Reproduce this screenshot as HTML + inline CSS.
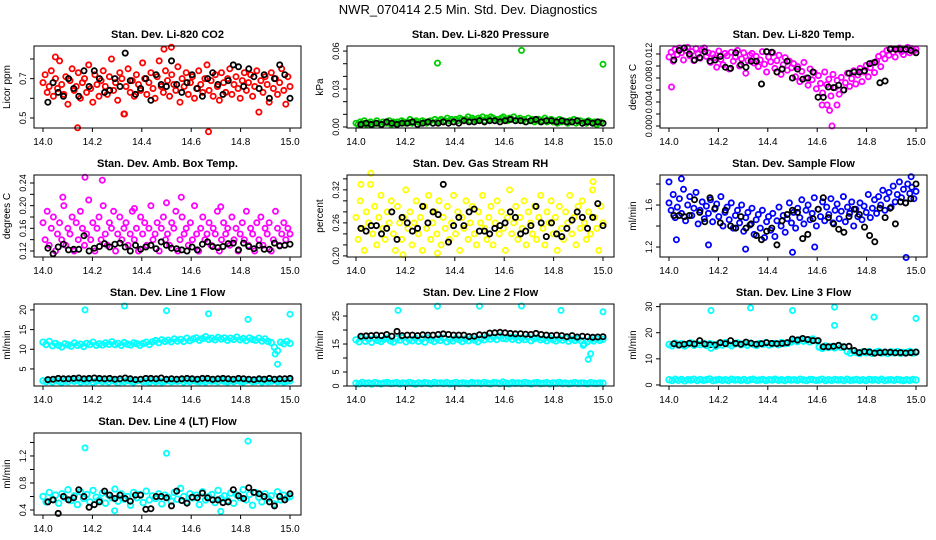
<!DOCTYPE html>
<html><head><meta charset="utf-8">
<style>
html,body{margin:0;padding:0;background:#fff;}
svg{display:block;font-family:"Liberation Sans",Arial,sans-serif;}
</style></head>
<body>
<svg id="chart" width="936" height="540" viewBox="0 0 936 540" xmlns="http://www.w3.org/2000/svg">
<rect width="936" height="540" fill="#fff"/>
<text x="468" y="14" text-anchor="middle" font-size="13">NWR_070414  2.5 Min. Std. Dev. Diagnostics</text>
</svg>
<script>
// ---------- DATA ----------
const xTicks = [14.0, 14.2, 14.4, 14.6, 14.8, 15.0];
const xTickLabels = ["14.0", "14.2", "14.4", "14.6", "14.8", "15.0"];

// CO2 (ppm)
const co2Main = [0.68,0.72,0.63,0.66,0.74,0.61,0.70,0.65,0.79,0.67,0.62,0.71,0.57,0.69,0.75,0.64,0.66,0.73,0.60,0.68,
0.70,0.63,0.77,0.65,0.58,0.72,0.67,0.61,0.69,0.74,0.66,0.62,0.71,0.80,0.64,0.68,0.59,0.73,0.70,0.52,
0.66,0.75,0.63,0.69,0.61,0.72,0.67,0.64,0.78,0.70,0.62,0.68,0.73,0.65,0.60,0.71,0.79,0.66,0.63,0.74,
0.69,0.61,0.72,0.67,0.64,0.76,0.58,0.70,0.66,0.73,0.62,0.68,0.71,0.60,0.65,0.74,0.67,0.63,0.70,0.77,
0.64,0.69,0.61,0.72,0.66,0.59,0.73,0.68,0.63,0.70,0.75,0.62,0.67,0.71,0.65,0.60,0.69,0.73,0.64,0.68,
0.72,0.61,0.66,0.74,0.53,0.69,0.63,0.71,0.67,0.58,0.73,0.65,0.70,0.62,0.68,0.75,0.64,0.57,0.71,0.66];
const co2Black = [0.58,0.68,0.63,0.61,0.70,0.65,0.61,0.74,0.66,0.74,0.70,0.63,0.64,0.70,0.66,0.83,0.69,0.62,0.65,0.70,0.59,0.72,0.67,0.66,0.79,0.67,0.63,0.68,0.72,0.65,0.61,0.70,0.73,0.67,0.62,0.69,0.77,0.76,0.66,0.75,0.71,0.65,0.72,0.60,0.70,0.77,0.72,0.60];
const co2OutT = [14.14, 14.67, 14.49, 14.52, 14.05, 14.33];
const co2OutV = [0.45, 0.43, 0.85, 0.86, 0.81, 0.52];

// Pressure (x1000 kPa)
const presMain = [3,2,4,3,5,2,3,4,2,3,5,3,2,4,3,3,5,2,4,3,
4,3,5,4,3,4,6,3,4,5,4,3,5,4,3,4,5,3,6,4,
5,6,4,5,7,5,6,4,6,5,7,6,5,6,8,5,7,6,5,7,
6,8,5,7,6,8,7,5,6,6,7,8,6,5,7,6,8,5,6,7,
5,6,4,7,5,6,4,5,6,4,5,7,4,5,6,4,5,3,6,4,
5,4,3,5,4,6,3,4,5,3,4,3,5,4,3,4,2,3,4,3];
const presBlack = [2,3,2,3,2,4,3,2,3,3,4,2,3,4,3,3,4,3,4,3,5,4,4,5,4,5,5,4,5,6,5,5,4,5,6,4,5,5,4,5,4,4,5,3,4,3,4,3];
const presOutT = [14.33, 14.67, 15.0];
const presOutV = [50.5, 60.5, 49.5];

// Li-820 temp (x1000 C)
const ltMain = [11.5,12.3,10.8,12.8,11.9,13.0,12.2,11.0,12.6,13.1,11.7,12.4,10.9,12.9,12.0,11.3,12.7,13.0,11.6,12.2,
10.6,12.0,11.4,9.8,12.5,11.1,10.2,12.1,11.7,9.5,12.3,10.8,11.5,12.6,10.0,11.2,12.2,8.8,10.9,11.8,
12.1,10.5,11.6,9.9,11.0,12.4,10.3,9.0,11.5,10.7,12.2,9.6,10.9,11.8,8.6,10.2,11.4,9.3,10.8,9.7,
10.4,8.2,9.9,7.4,9.1,10.6,8.0,6.8,9.5,7.7,8.9,6.2,8.4,7.1,5.5,9.0,6.9,7.8,5.0,8.6,
6.4,7.6,5.3,8.1,6.0,7.2,8.8,6.6,7.9,9.2,7.0,8.5,9.6,7.4,9.0,10.1,8.2,9.7,10.5,8.9,
10.8,11.6,9.9,12.0,11.2,12.6,11.8,12.9,12.3,11.5,12.8,13.0,12.4,11.9,12.7,13.1,12.2,12.9,12.5,12.8];
const ltBlack = [11.0,12.6,13.0,12.0,11.0,11.4,12.4,10.8,11.0,11.6,9.8,9.6,12.2,10.2,9.8,10.8,10.8,7.0,12.4,12.3,9.0,9.5,10.8,8.0,9.5,7.8,8.0,9.0,4.8,4.8,6.5,6.4,6.8,6.0,8.8,9.0,9.0,9.2,10.4,10.6,7.2,7.5,12.8,12.8,12.8,12.8,12.6,12.2];
const ltOutT = [14.01, 14.66, 14.62, 14.64, 14.68, 14.65];
const ltOutV = [6.5, 0.0, 3.5, 3.5, 3.5, 2.6];

// Amb box temp (x100 C)
const abMain = [17,14,19,13,16,18,12,15,17,14,20,13,16,15,18,12,17,14,19,16,
13,15,21,14,17,12,16,18,14,20,15,13,17,16,19,12,15,18,14,16,
17,13,15,19,14,16,12,18,15,17,13,16,20,14,15,17,12,16,18,14,
15,13,17,16,19,12,14,18,15,16,13,17,14,20,15,12,16,18,14,15,
17,13,16,15,19,12,14,17,15,16,13,18,14,16,12,15,17,14,19,13,
16,15,12,17,14,18,13,16,15,17,12,14,19,16,13,15,17,14,16,15];
const abBlack = [12.5,11.5,12.7,13.2,12.2,12.3,12.3,14.7,12.0,12.5,12.8,13.3,12.7,13.2,13.4,12.7,12.0,13.0,12.3,12.7,13.0,12.4,13.6,13.0,12.5,12.4,12.2,12.0,12.7,12.2,13.2,13.6,12.8,12.6,12.8,13.3,13.4,12.2,13.4,12.8,12.4,13.0,12.3,12.3,13.4,12.9,13.0,13.2];
const abOutT = [14.17, 14.24, 14.08, 14.56, 14.50, 14.72, 14.37];
const abOutV = [25.0, 24.5, 21.5, 21.5, 20.5, 19.8, 19.5];

// Gas stream RH (x100 percent)
const rhMain = [27,23,30,25,21,28,26,33,24,29,22,27,31,25,23,28,26,30,24,21,
29,26,23,27,32,25,28,22,26,30,24,27,21,29,25,31,23,26,28,24,
30,22,27,25,29,23,26,31,24,28,21,27,25,30,23,26,29,24,22,28,
26,31,25,23,27,29,22,26,30,24,28,25,21,27,32,24,26,29,23,27,
25,30,22,28,26,24,29,23,27,31,25,22,28,26,30,24,27,21,29,25,
23,28,26,31,24,27,22,29,25,30,26,23,28,24,32,27,25,21,29,26];
const rhBlack = [25,24.5,25.5,25.5,24,25,28,23,27,26,24.5,25,29,26,28,27.5,33,22.5,25.5,27,25.5,28,28.5,24.5,24.5,24,25,25.5,26,28,27,24,24.5,25.5,29,26,23.5,26,24,23.5,25,26.5,28,27,25,27,29.5,25.5];
const rhOutT = [14.06, 14.02, 14.96, 14.19, 14.33];
const rhOutV = [35.0, 33.0, 33.5, 20.2, 20.5];

// Sample flow (ml/min)
const sfMain = [1.62,1.55,1.70,1.48,1.58,1.66,1.52,1.75,1.45,1.60,1.68,1.50,1.57,1.72,1.42,1.55,1.63,1.47,1.59,1.52,
1.65,1.44,1.56,1.61,1.49,1.68,1.40,1.53,1.58,1.46,1.62,1.38,1.50,1.55,1.43,1.60,1.35,1.48,1.53,1.41,
1.57,1.32,1.46,1.51,1.38,1.55,1.29,1.44,1.49,1.36,1.52,1.30,1.45,1.58,1.40,1.50,1.34,1.47,1.62,1.43,
1.53,1.38,1.57,1.48,1.65,1.42,1.55,1.60,1.46,1.52,1.67,1.40,1.56,1.49,1.63,1.45,1.58,1.51,1.66,1.43,
1.55,1.61,1.47,1.54,1.68,1.44,1.58,1.52,1.63,1.40,1.56,1.49,1.62,1.46,1.59,1.53,1.70,1.48,1.57,1.65,
1.52,1.68,1.60,1.74,1.55,1.66,1.72,1.58,1.78,1.63,1.70,1.82,1.67,1.75,1.62,1.80,1.71,1.77,1.66,1.73];
const sfBlack = [1.50,1.50,1.49,1.50,1.65,1.53,1.44,1.67,1.57,1.43,1.55,1.40,1.38,1.49,1.38,1.42,1.31,1.27,1.35,1.38,1.22,1.45,1.51,1.55,1.53,1.28,1.32,1.47,1.56,1.67,1.48,1.42,1.37,1.34,1.49,1.56,1.51,1.39,1.31,1.25,1.57,1.48,1.57,1.42,1.63,1.62,1.66,1.80];
const sfOutT = [14.0, 14.05, 14.96, 14.98, 14.31, 14.50, 14.59, 14.03, 14.16];
const sfOutV = [1.82, 1.85, 1.10, 1.87, 1.18, 1.15, 1.20, 1.27, 1.22];

// Line 1 flow
const l1Upper = [11.8,11.2,12.0,10.9,11.5,11.0,10.6,11.4,11.1,10.8,11.6,11.0,11.3,10.7,11.5,11.2,11.8,11.0,11.4,11.1,
11.6,11.3,11.9,11.2,11.5,11.0,11.7,11.3,11.1,11.6,11.4,11.0,11.5,11.8,11.2,11.9,12.2,11.7,12.4,12.0,
12.3,11.9,12.6,12.1,12.5,12.0,12.8,12.2,12.6,12.9,12.3,12.7,13.2,12.5,12.8,12.4,13.0,12.6,12.9,12.3,
12.8,12.5,13.1,12.4,12.7,12.2,12.9,12.5,12.3,12.8,12.1,12.6,12.0,11.7,10.5,9.6,11.8,11.4,12.0,11.5];
const l1Lower = [2.0,1.8,2.1,1.7,2.2,1.9,1.6,2.0,1.8,2.3,1.9,2.1,1.7,2.0,1.8,2.2,1.6,1.9,2.1,1.8,
2.0,1.7,2.2,1.9,1.5,2.0,1.8,2.1,1.9,1.7,2.0,2.2,1.8,1.9,1.6,2.1,1.8,2.0,1.7,1.9,
2.1,1.8,2.0,1.9,2.2,1.7,2.0,1.8,2.1,1.9,1.8,2.0,1.7,2.1,1.9,2.0,1.8,2.2,1.9,1.7,
2.0,1.8,2.1,1.9,1.7,2.0,2.2,1.8,1.9,2.1,1.7,2.0,1.8,1.9,2.1,1.8,2.0,1.7,1.9,2.0];
const l1Black = [2.3,2.4,2.6,2.5,2.5,2.6,2.7,2.5,2.6,2.7,2.6,2.5,2.6,2.4,2.5,2.7,2.5,2.3,2.4,2.6,2.6,2.5,2.7,2.4,2.5,2.4,2.5,2.6,2.5,2.4,2.6,2.6,2.4,2.5,2.6,2.5,2.4,2.6,2.5,2.4,2.3,2.5,2.4,2.6,2.4,2.5,2.5,2.6];
const l1OutT = [14.17, 14.33, 14.50, 14.67, 14.83, 15.0, 14.95, 14.94];
const l1OutV = [20.0, 21.0, 19.8, 19.0, 17.6, 18.9, 6.2, 8.8];

// Line 2 flow
const l2Upper = [16.5,15.8,17.2,16.0,16.8,15.6,17.0,16.3,15.9,16.7,17.1,16.1,15.7,16.9,16.4,17.3,15.8,16.6,16.2,17.0,
16.0,16.8,15.7,17.2,16.4,15.9,16.9,16.3,17.1,15.8,16.6,16.1,17.0,16.5,15.9,16.8,16.2,17.1,16.4,15.8,
17.0,16.5,17.6,16.8,17.4,16.6,17.8,17.0,16.9,17.5,16.7,17.3,16.4,17.1,16.6,17.4,16.2,16.9,17.2,16.5,
16.8,16.2,17.0,16.5,16.1,16.9,16.4,17.1,16.0,16.7,16.3,16.9,16.2,15.0,15.8,16.6,16.1,16.8,16.3,16.7];
const l2Lower = [1.0,0.8,1.3,0.9,1.1,0.7,1.2,1.0,0.8,1.1,1.3,0.9,1.0,1.2,0.8,1.1,0.9,1.3,1.0,0.7,
1.1,0.9,1.2,1.0,0.8,1.3,1.0,1.1,0.9,1.2,0.8,1.0,1.3,0.9,1.1,1.0,0.8,1.2,1.0,1.1,
0.9,1.3,1.0,0.8,1.2,1.1,0.9,1.4,1.0,0.8,1.2,1.0,1.1,0.9,1.3,1.0,0.8,1.1,1.2,0.9,
1.0,1.2,0.8,1.1,1.0,1.3,0.9,1.1,0.8,1.0,1.2,0.9,1.1,1.0,0.8,1.2,1.0,0.9,1.1,1.0];
const l2Black = [17.8,17.9,18.0,18.2,18.0,18.4,17.8,19.5,18.0,18.2,18.2,18.0,18.3,18.2,18.2,18.4,18.6,18.4,18.2,18.2,18.2,17.7,17.8,18.3,18.2,18.9,19.0,19.2,19.0,18.8,18.6,18.7,18.5,18.4,18.8,18.4,18.2,18.0,18.2,18.0,17.6,18.0,17.5,17.8,17.6,17.4,17.5,17.6];
const l2OutT = [14.17, 14.33, 14.50, 14.67, 14.83, 15.0, 14.94, 14.95, 14.92];
const l2OutV = [27.0, 28.5, 28.5, 28.6, 27.0, 26.5, 9.5, 11.5, 14.5];

// Line 3 flow
const l3Upper = [15.5,15.0,16.0,15.3,15.8,14.9,15.6,16.1,15.2,15.7,15.4,16.0,15.1,15.8,15.5,14.8,15.9,15.3,16.2,15.6,
15.0,15.7,16.1,15.4,15.8,15.2,16.0,15.5,15.1,15.9,15.6,16.2,15.3,15.7,15.9,15.4,16.3,15.8,16.0,16.5,
17.0,16.6,17.4,16.8,17.2,16.5,17.6,16.9,14.5,14.0,14.9,14.3,14.7,14.2,15.0,14.4,14.6,12.8,12.2,12.9,
12.4,12.0,12.7,12.3,12.8,12.1,12.5,12.9,12.2,12.6,12.0,12.7,12.3,12.8,12.1,12.5,12.4,12.9,12.2,12.6];
const l3Lower = [2.0,1.7,2.2,1.8,2.1,1.6,2.0,1.9,2.2,1.7,2.1,1.8,2.0,2.3,1.7,1.9,2.1,1.8,2.0,1.7,
2.2,1.9,2.0,1.8,2.1,1.7,2.0,2.2,1.8,1.9,2.1,1.7,2.0,1.9,2.2,1.8,2.0,1.7,2.1,1.9,
2.0,1.8,2.2,1.9,1.7,2.1,2.0,1.8,1.9,2.2,1.7,2.0,1.8,2.1,1.9,2.0,1.7,2.2,1.8,1.9,
2.1,1.8,2.0,1.7,2.1,1.9,2.0,1.8,2.2,1.7,1.9,2.0,1.8,2.1,1.9,1.7,2.0,1.8,2.1,1.9];
const l3Black = [15.8,15.3,15.6,16.0,15.7,17.0,15.7,15.4,15.3,16.2,15.8,17.0,15.9,15.6,16.4,16.0,15.6,15.8,16.2,15.9,15.8,15.9,16.2,17.6,17.2,17.8,17.4,17.0,17.0,14.6,14.6,14.8,15.2,14.6,14.8,13.2,12.4,12.8,12.6,12.2,12.4,12.6,12.5,12.3,12.4,12.2,12.4,12.6];
const l3OutT = [14.17, 14.33, 14.50, 14.67, 14.67, 14.83, 15.0, 14.17];
const l3OutV = [28.5, 29.5, 28.5, 29.8, 22.8, 26.0, 25.5, 14.0];

// Line 4 (LT) flow
const l4Main = [0.60,0.52,0.66,0.56,0.62,0.50,0.64,0.58,0.70,0.54,0.61,0.48,0.67,0.57,0.63,0.52,0.69,0.59,0.55,0.65,
0.50,0.62,0.58,0.71,0.53,0.64,0.56,0.60,0.47,0.66,0.58,0.63,0.51,0.68,0.55,0.61,0.57,0.64,0.49,0.62,
0.59,0.53,0.66,0.56,0.72,0.60,0.52,0.64,0.58,0.62,0.48,0.67,0.55,0.60,0.63,0.51,0.69,0.57,0.61,0.54,
0.65,0.50,0.62,0.58,0.70,0.55,0.63,0.47,0.66,0.59,0.52,0.64,0.57,0.61,0.49,0.67,0.55,0.62,0.58,0.60];
const l4Black = [0.52,0.55,0.35,0.60,0.55,0.58,0.70,0.60,0.44,0.48,0.52,0.68,0.62,0.57,0.62,0.57,0.53,0.62,0.62,0.41,0.42,0.60,0.60,0.58,0.46,0.68,0.54,0.50,0.59,0.58,0.65,0.58,0.55,0.55,0.51,0.52,0.70,0.61,0.57,0.73,0.66,0.64,0.60,0.52,0.46,0.60,0.55,0.64];
const l4OutT = [14.17, 14.50, 14.83, 14.29, 14.72];
const l4OutV = [1.32, 1.24, 1.42, 0.39, 0.38];

// ---------- CHART ----------
const svg = document.getElementById('chart');
const NS = 'http://www.w3.org/2000/svg';
function mk(tag, attrs, parent) {
  const e = document.createElementNS(NS, tag);
  for (const k in attrs) e.setAttribute(k, attrs[k]);
  (parent || svg).appendChild(e);
  return e;
}
const CYAN = '#00ffff';
const panels = [
  {id:'co2', title:'Stan. Dev. Li-820 CO2', ylab:'Licor ppm', col:0, row:0, yMin:0.449, yMax:0.866, ticks:[0.5,0.6,0.7,0.8], labels:['0.5','','0.7',''],
   series:[{c:'#ff0000', v:co2Main, b:false}, {c:'#000', v:co2Black, b:true}], out:{c:'#ff0000', t:co2OutT, v:co2OutV}},
  {id:'pressure', title:'Stan. Dev. Li-820 Pressure', ylab:'kPa', col:1, row:0, yMin:-0.8, yMax:64, ticks:[0,10,20,30,40,50,60], labels:['0.00','','','0.03','','','0.06'],
   series:[{c:'#00cc00', v:presMain, b:false}, {c:'#000', v:presBlack, b:true}], out:{c:'#00cc00', t:presOutT, v:presOutV}},
  {id:'li-temp', title:'Stan. Dev. Li-820 Temp.', ylab:'degrees C', col:2, row:0, yMin:-0.33, yMax:13.33, ticks:[0,2,4,6,8,10,12], labels:['0.000','','0.004','','0.008','','0.012'],
   series:[{c:'#ff00ff', v:ltMain, b:false}, {c:'#000', v:ltBlack, b:true}], out:{c:'#ff00ff', t:ltOutT, v:ltOutV}},
  {id:'amb-box', title:'Stan. Dev. Amb. Box Temp.', ylab:'degrees C', col:0, row:1, yMin:10.94, yMax:25.41, ticks:[12,14,16,18,20,22,24], labels:['0.12','','0.16','','0.20','','0.24'],
   series:[{c:'#ff00ff', v:abMain, b:false}, {c:'#000', v:abBlack, b:true}], out:{c:'#ff00ff', t:abOutT, v:abOutV}},
  {id:'rh', title:'Stan. Dev. Gas Stream RH', ylab:'percent', col:1, row:1, yMin:19.8, yMax:34.7, ticks:[20,22,24,26,28,30,32,34], labels:['0.20','','','0.26','','','0.32',''],
   series:[{c:'#ffff00', v:rhMain, b:false}, {c:'#000', v:rhBlack, b:true}], out:{c:'#ffff00', t:rhOutT, v:rhOutV}},
  {id:'sample-flow', title:'Stan. Dev. Sample Flow', ylab:'ml/min', col:2, row:1, yMin:1.105, yMax:1.886, ticks:[1.2,1.4,1.6,1.8], labels:['1.2','','1.6',''],
   series:[{c:'#0000ff', v:sfMain, b:false}, {c:'#000', v:sfBlack, b:true}], out:{c:'#0000ff', t:sfOutT, v:sfOutV}},
  {id:'line1', title:'Stan. Dev. Line 1 Flow', ylab:'ml/min', col:0, row:2, yMin:0.67, yMax:21.5, ticks:[5,10,15,20], labels:['5','10','15','20'],
   series:[{c:CYAN, v:l1Upper, b:false}, {c:CYAN, v:l1Lower, b:false}, {c:'#000', v:l1Black, b:true}], out:{c:CYAN, t:l1OutT, v:l1OutV}},
  {id:'line2', title:'Stan. Dev. Line 2 Flow', ylab:'ml/min', col:1, row:2, yMin:0, yMax:29.3, ticks:[0,5,10,15,20,25], labels:['0','5','','15','','25'],
   series:[{c:CYAN, v:l2Upper, b:false}, {c:CYAN, v:l2Lower, b:false}, {c:'#000', v:l2Black, b:true}], out:{c:CYAN, t:l2OutT, v:l2OutV}},
  {id:'line3', title:'Stan. Dev. Line 3 Flow', ylab:'ml/min', col:2, row:2, yMin:-0.4, yMax:31, ticks:[0,10,20,30], labels:['0','10','20','30'],
   series:[{c:CYAN, v:l3Upper, b:false}, {c:CYAN, v:l3Lower, b:false}, {c:'#000', v:l3Black, b:true}], out:{c:CYAN, t:l3OutT, v:l3OutV}},
  {id:'line4', title:'Stan. Dev. Line 4 (LT) Flow', ylab:'ml/min', col:0, row:3, yMin:0.326, yMax:1.54, ticks:[0.4,0.6,0.8,1.0,1.2,1.4], labels:['0.4','','0.8','','1.2',''],
   series:[{c:CYAN, v:l4Main, b:false}, {c:'#000', v:l4Black, b:true}], out:{c:CYAN, t:l4OutT, v:l4OutV}}
];

panels.forEach(p => {
  const x14 = 43 + p.col * 313, x15 = x14 + 247;
  const left = x14 - 9, right = x15 + 11;
  const top = 46 + p.row * 129, bottom = top + 82;
  const xs = t => x14 + (t - 14) * (x15 - x14);
  const ys = v => bottom - (v - p.yMin) / (p.yMax - p.yMin) * (bottom - top);
  const g = mk('g', {});
  
  

  const tt = mk('text', {x:(left+right)/2, y:top-8, 'text-anchor':'middle', 'font-size':'11', 'font-weight':'bold'}, g);
  tt.textContent = p.title;
  
  

  // points
  const pts = mk('g', {fill:'none', 'stroke-width':'1.8'}, g);
  
  
  p.series.forEach(s => {
    const n = s.v.length;
    const rad = (s.c === CYAN && !s.b) ? '2.8' : '2.6';
    s.v.forEach((v, i) => {
      const t = s.b ? 14.02 + i * 0.98 / (n - 1) : 14 + i / (n - 1);
      const c = mk('circle', {cx:xs(t).toFixed(1), cy:ys(v).toFixed(1), r:rad, stroke:s.c}, pts);
      
      
    });
  });
  p.out.t.forEach((t, i) => {
    const c = mk('circle', {cx:xs(t).toFixed(1), cy:ys(p.out.v[i]).toFixed(1), r:'2.6', stroke:p.out.c}, pts);
    
    
  });

  // box
  const box = mk('rect', {x:left, y:top, width:right-left, height:bottom-top, fill:'none', stroke:'#000', 'stroke-width':'1'}, g);
  
  

  // x axis
  const xa = mk('g', {stroke:'#000', 'stroke-width':'1'}, g);
  
  
  mk('line', {x1:xs(xTicks[0]), y1:bottom, x2:xs(xTicks[xTicks.length-1]), y2:bottom}, xa);
  xTicks.forEach((t, i) => {
    mk('line', {x1:xs(t), y1:bottom, x2:xs(t), y2:bottom+4}, xa);
    const lb = mk('text', {x:xs(t), y:bottom+17, 'text-anchor':'middle', 'font-size':'10', stroke:'none', fill:'#000'}, xa);
    lb.textContent = xTickLabels[i];
    
    
  });

  // y axis
  const ya = mk('g', {stroke:'#000', 'stroke-width':'1'}, g);
  
  
  mk('line', {x1:left, y1:ys(p.ticks[0]), x2:left, y2:ys(p.ticks[p.ticks.length-1])}, ya);
  p.ticks.forEach((t, i) => {
    const y = ys(t);
    mk('line', {x1:left-4, y1:y, x2:left, y2:y}, ya);
    if (p.labels[i]) {
      const lb = mk('text', {x:left-8, y:y, 'text-anchor':'middle', 'font-size':'9', stroke:'none', fill:'#000', transform:'rotate(-90 ' + (left-8) + ' ' + y + ')'}, ya);
      lb.textContent = p.labels[i];
      
      
    }
  });
  const yl = mk('text', {x:left-24, y:(top+bottom)/2, 'text-anchor':'middle', 'font-size':'10', transform:'rotate(-90 ' + (left-24) + ' ' + (top+bottom)/2 + ')'}, g);
  yl.textContent = p.ylab;
  
  
});
</script>
</body></html>
